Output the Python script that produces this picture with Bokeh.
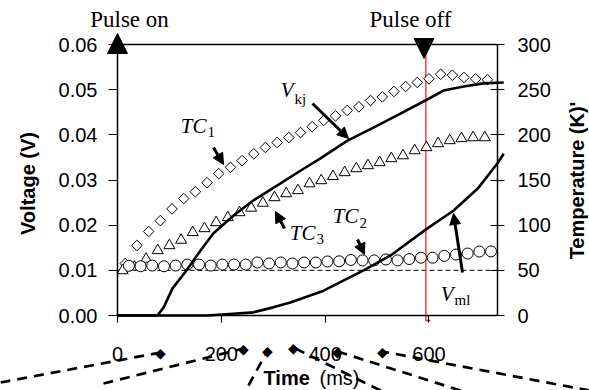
import math
from bokeh.plotting import figure
from bokeh.models import (Range1d, LinearAxis, FixedTicker, NumeralTickFormatter,
                          Label, Arrow, NormalHead)
from bokeh.embed import file_html
from bokeh.resources import INLINE

# ---------------- data ----------------
tc1_time = [15, 37.5, 60, 82.5, 105, 127.5, 150, 172.5, 195, 217.5, 240, 262.5, 285, 307.5, 330, 352.5,
            375, 397.5, 420, 442.5, 465, 487.5, 510, 532.5, 555, 577.5, 600, 622.5, 645, 667.5, 690, 712.5]
tc1_temp = [57.6, 77.5, 93, 105, 118, 129.5, 137, 147, 157, 164, 171.5, 179, 186, 191.5, 197, 202.5,
            209, 216, 221, 227, 231, 238, 242, 248, 253.5, 258, 262, 267, 266, 263.5, 262, 261]

tc3_time = [10, 32.5, 55, 77.5, 100, 122.5, 145, 167.5, 190, 212.5, 235, 257.5, 280, 302.5, 325, 347.5,
            370, 392.5, 415, 437.5, 460, 482.5, 505, 527.5, 550, 572.5, 595, 617.5, 640, 662.5, 685, 707.5]
tc3_temp = [49.8, 53.7, 62.5, 72, 77.5, 83.5, 92, 96.3, 103, 108.5, 114, 119, 124.5, 130.6, 135, 138.4,
            146, 149.4, 154, 158.3, 162.7, 166, 169.4, 173.8, 177, 182.6, 186, 190.4, 193.7, 196, 197, 197]

tc2_time = [22, 44.5, 67, 89.5, 112, 134.5, 157, 179.5, 202, 224.5, 247, 269.5, 292, 314.5, 337, 359.5,
            382, 404.5, 427, 449.5, 472, 494.5, 517, 539.5, 562, 584.5, 607, 629.5, 652, 674.5, 697, 719.5]
tc2_temp = [55, 54.5, 55.3, 54.5, 55.3, 56.4, 56.4, 55.3, 56.4, 56.4, 56.4, 58.7, 57.6, 58.7, 57.6, 58.7,
            58.7, 59.8, 60, 61.5, 61, 61, 62, 61, 62.5, 64, 64, 66, 67.5, 68.6, 70.8, 71]

vkj_time = [0, 77, 89, 106, 131, 160, 185, 223, 262, 308, 353, 391, 443, 493, 545, 593, 628, 667, 705, 744]
vkj_volt = [0, 0, 0.0018, 0.0060, 0.0097, 0.0144, 0.0182, 0.0221, 0.0255, 0.0288, 0.0321, 0.0348,
            0.0387, 0.0416, 0.0447, 0.0476, 0.0498, 0.0507, 0.0514, 0.0516]

vml_time = [0, 173, 223, 262, 300, 333, 397, 474, 526, 597, 647, 694, 732, 744]
vml_volt = [0, 0, 0.0004, 0.0007, 0.0018, 0.0029, 0.0055, 0.0100, 0.0133, 0.0193, 0.0232, 0.0281, 0.0337,
            0.0358]

volt_ticks = [0, 0.01, 0.02, 0.03, 0.04, 0.05, 0.06]
temp_ticks = [0, 50, 100, 150, 200, 250, 300]
time_ticks = [0, 200, 400, 600]
baseline_volt = 0.01
pulse_on_time = 0
pulse_off_time = 594

X_END = 732
V_END = 0.06
T_END = 300
K_PER_V = T_END / V_END

# ---------------- layout helpers (picture px -> data) ----------------
W, H = 589, 390
FL, FR, FT, FB = 117, 497, 44, 315


def X(px):
    return (px - FL) / (FR - FL) * X_END


def Y(py):
    return (FB - py) / (FB - FT) * V_END


p = figure(width=W, height=H, min_border=0,
           x_range=Range1d(X(0), X(W)), y_range=Range1d(Y(H), Y(0)),
           output_backend="svg", toolbar_location=None, x_axis_location=None, y_axis_location=None)
p.extra_y_ranges = {"temp": Range1d(Y(H) * K_PER_V, Y(0) * K_PER_V)}
p.grid.visible = False
p.outline_line_color = None
p.background_fill_color = "white"
p.border_fill_color = "white"

SANS = "Liberation Sans"
SERIF = "Liberation Serif"

left = LinearAxis(ticker=FixedTicker(ticks=volt_ticks), formatter=NumeralTickFormatter(format="0.00"),
                  fixed_location=0, bounds=(0, V_END))
right = LinearAxis(y_range_name="temp", ticker=FixedTicker(ticks=temp_ticks),
                   fixed_location=X_END, bounds=(0, T_END))
below = LinearAxis(ticker=FixedTicker(ticks=time_ticks), fixed_location=0, bounds=(0, X_END))
for ax in (left, right, below):
    ax.major_label_text_font = SANS
    ax.major_label_text_font_size = "20px"
    ax.major_label_text_color = "black"
    ax.axis_line_color = "black"
    ax.axis_line_width = 1.5
    ax.major_tick_line_color = "black"
    ax.major_tick_line_width = 1.2
    ax.minor_tick_line_color = None
left.major_tick_in = 0
left.major_tick_out = 9
left.major_label_standoff = 11
right.major_tick_in = 7
right.major_tick_out = 7
right.major_label_standoff = 13
below.major_tick_in = 0
below.major_tick_out = 7
below.major_label_standoff = 24
p.add_layout(left, "left")
p.add_layout(right, "right")
p.add_layout(below, "below")

# frame top edge, dashed baseline, pulse-off line
p.line([0, X_END], [V_END, V_END], line_color="black", line_width=1.5)
p.line([0, X_END], [baseline_volt, baseline_volt], line_color="black", line_width=1, line_dash="5 3")
p.line([pulse_off_time, pulse_off_time, X(430)], [V_END, Y(320), Y(320)], line_color="#ff2020", line_width=1.3)

# series
p.scatter(tc1_time, tc1_temp, y_range_name="temp", marker="square", angle=math.pi / 4, size=7.5,
          fill_color="white", line_color="black", line_width=1)
p.scatter(tc3_time, tc3_temp, y_range_name="temp", marker="triangle", size=11,
          fill_color="white", line_color="black", line_width=1)
p.scatter(tc2_time, tc2_temp, y_range_name="temp", marker="circle", size=11,
          fill_color="white", line_color="black", line_width=1)
p.line(vkj_time, vkj_volt, line_color="black", line_width=2.6)
p.line(vml_time, vml_volt, line_color="black", line_width=2.6)

# pulse markers
p.add_layout(Arrow(x_start=pulse_on_time, y_start=Y(60), x_end=pulse_on_time, y_end=Y(33),
                   line_alpha=0, end=NormalHead(size=20, fill_color="black", line_color="black")))
p.add_layout(Arrow(x_start=X(423.5), y_start=Y(30), x_end=X(423.5), y_end=Y(58),
                   line_alpha=0, end=NormalHead(size=20, fill_color="black", line_color="black")))


def lab(px, py, text, size, font=SERIF, style="normal", align="center", angle=0):
    p.add_layout(Label(x=X(px), y=Y(py), text=text, text_font=font, text_font_size=size,
                       text_font_style=style, text_align=align, text_baseline="middle",
                       text_color="black", angle=angle))


lab(129, 19, "Pulse on", "23px")
lab(410, 19, "Pulse off", "23px")

# series annotations (name + subscript)
for (rx, ry, main, sub, sy) in [(206, 125, "TC", "1", 131), (293, 89, "V", "kj", 98),
                                (315, 232, "TC", "3", 238), (358, 215, "TC", "2", 222),
                                (453, 293, "V", "ml", 299)]:
    lab(rx, ry, main, "21px", style="italic", align="right")
    lab(rx + 1, sy, sub, "15px", align="left")


def pointer(x0, y0, x1, y1):
    p.add_layout(Arrow(x_start=X(x0), y_start=Y(y0), x_end=X(x1), y_end=Y(y1),
                       line_color="black", line_width=3,
                       end=NormalHead(size=11, fill_color="black", line_color="black")))


pointer(213, 147, 223, 164)
pointer(312, 103, 348, 138)
pointer(284, 228, 275, 211)
pointer(357, 239, 364, 254)
pointer(462, 272, 453, 213)

# axis titles
lab(27, 183, "Voltage (V)", "20px", font=SANS, style="bold", angle=math.pi / 2)
lab(576, 180, "Temperature (K)'", "20px", font=SANS, style="bold", angle=math.pi / 2)
lab(263, 377, "Time", "20px", font=SANS, style="bold", align="left")
lab(319, 377, "(ms)", "20px", font=SANS, align="left")

# stray dashed leader lines below the axis
leaders = [((0, 382), (160, 352)), ((103, 383), (243, 348)), ((248, 385), (267, 350)),
           ((380, 390), (293, 347)), ((460, 390), (337, 351)), ((589, 390), (382, 351))]
for (a, b) in leaders:
    p.line([X(a[0]), X(b[0])], [Y(a[1]), Y(b[1])], line_color="black", line_width=2.7, line_dash="10 7")
    lab(b[0], b[1], "\u25c6", "14px", font="DejaVu Sans")

open("out.html", "w").write(file_html(p, INLINE))
